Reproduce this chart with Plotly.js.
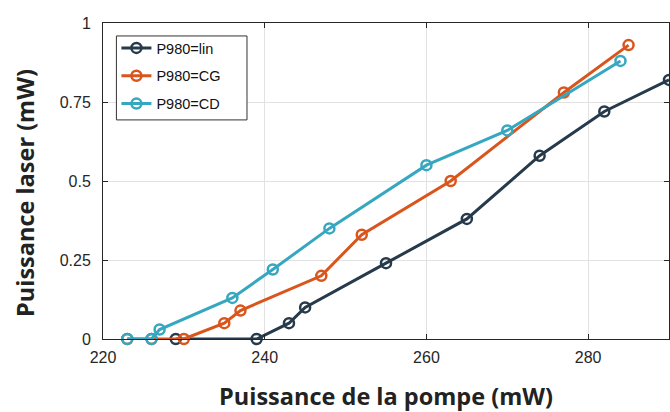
<!DOCTYPE html>
<html>
<head>
<meta charset="utf-8">
<script src="https://cdn.plot.ly/plotly-3.0.1.min.js"></script>
<style>html,body{margin:0;padding:0;background:#fff;}#chart{width:670px;height:412px;}</style>
</head>
<body>
<div id="chart"></div>
<script>
const linX = [229, 239, 243, 245, 255, 265, 274, 282, 290];
const linY = [0, 0, 0.05, 0.10, 0.24, 0.38, 0.58, 0.72, 0.82];
const cgX = [223, 226, 230, 235, 237, 247, 252, 263, 277, 285];
const cgY = [0, 0, 0, 0.05, 0.09, 0.20, 0.33, 0.50, 0.78, 0.93];
const cdX = [223, 226, 227, 236, 241, 248, 260, 270, 284];
const cdY = [0, 0, 0.03, 0.13, 0.22, 0.35, 0.55, 0.66, 0.88];
const seriesNames = ['P980=lin', 'P980=CG', 'P980=CD'];
const xTicks = [220, 240, 260, 280];
const yTicks = [0, 0.25, 0.5, 0.75, 1];
const yTickText = ['0', '0.25', '0.5', '0.75', '1'];
const xTitle = 'Puissance de la pompe (mW)';
const yTitle = 'Puissance laser (mW)';

const colors = ['#263a4b', '#d9551c', '#36a7c0'];
const xs = [linX, cgX, cdX];
const ys = [linY, cgY, cdY];

const traces = xs.map((x, i) => ({
  x: x, y: ys[i], name: seriesNames[i], type: 'scatter', mode: 'lines+markers',
  legendgroup: 'g' + i,
  line: {color: colors[i], width: 3},
  marker: {symbol: 'circle-open', size: 10, color: colors[i], line: {width: 2.5, color: colors[i]}},
  cliponaxis: false
}));

const titleFont = {family: 'Open Sans, sans-serif', size: 23.5, weight: 'bold', color: '#222'};

const axisCommon = {
  showline: true, linecolor: '#262626', linewidth: 1, mirror: 'ticks',
  ticks: 'inside', ticklen: 5, tickcolor: '#262626', tickwidth: 1,
  showgrid: true, gridcolor: '#e2e2e2', gridwidth: 1, zeroline: false,
  tickfont: {family: 'Liberation Sans, Arial, sans-serif', size: 16, color: '#262626'}
};

const layout = {
  width: 670, height: 412,
  margin: {l: 103, r: 1, t: 23, b: 73},
  paper_bgcolor: '#fff', plot_bgcolor: '#fff',
  showlegend: true,
  xaxis: Object.assign({}, axisCommon, {
    range: [220, 290], tickvals: xTicks, ticklabelstandoff: 4,
    title: {text: xTitle, standoff: 27, font: titleFont}
  }),
  yaxis: Object.assign({}, axisCommon, {
    range: [0, 1], tickvals: yTicks, ticktext: yTickText, ticklabelstandoff: 8
  }),
  annotations: [{
    text: yTitle, xref: 'paper', yref: 'paper', x: -0.1375, y: 0.4626,
    xanchor: 'center', yanchor: 'middle', textangle: -90, showarrow: false,
    font: titleFont
  }],
  shapes: [{
    type: 'rect', xref: 'paper', yref: 'paper', layer: 'above',
    x0: 0.0237, x1: 0.2544, y0: 0.6933, y1: 0.959,
    fillcolor: '#fff', line: {color: '#333', width: 1}
  }],
  legend: {
    x: 0.0237, y: 0.9716, xanchor: 'left', yanchor: 'top',
    bgcolor: 'rgba(0,0,0,0)', borderwidth: 0,
    tracegroupgap: 6,
    font: {family: 'Liberation Sans, Arial, sans-serif', size: 14.5, color: '#111'}
  }
};

Plotly.newPlot('chart', traces, layout, {displayModeBar: false, staticPlot: true});
</script>
</body>
</html>
